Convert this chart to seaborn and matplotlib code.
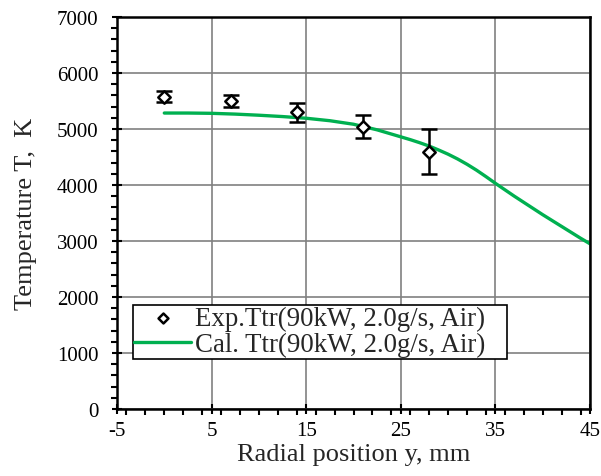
import numpy as np
import pandas as pd
import seaborn as sns
import matplotlib
matplotlib.use("Agg")
import matplotlib.pyplot as plt
from matplotlib.ticker import FixedLocator, MultipleLocator

# Experimental data
exp_y = [0, 7, 14, 21, 28]
exp_T = [5577, 5494, 5298, 5042, 4595]
exp_err = [100, 105, 165, 205, 405]

# Calculated curve
cal_y = [0, 2.5, 5, 7.5, 10, 12.5, 15, 17.5, 20, 22.5, 25, 26, 27, 28, 29, 30,
         31, 32, 33, 34, 35, 36, 37, 38, 39, 40, 41, 42, 43, 44, 45]
cal_T = [5285, 5285, 5280, 5266, 5246, 5222, 5192, 5148, 5085, 4985, 4860, 4810,
         4755, 4695, 4625, 4550, 4465, 4370, 4265, 4150, 4030, 3915, 3800, 3690,
         3580, 3470, 3365, 3260, 3155, 3050, 2950]

x_ticks = [-5, 5, 15, 25, 35, 45]

sns.set_theme(style="white")
plt.rcParams['font.family'] = ['Liberation Serif', 'DejaVu Serif']
plt.rcParams['axes.unicode_minus'] = False

fig = plt.figure(figsize=(6.01, 4.77), dpi=100)
ax = fig.add_axes([117/601, (477-410)/477, 473/601, 392/477])

df_cal = pd.DataFrame({"y": cal_y, "T": cal_T})
df_exp = pd.DataFrame({"y": exp_y, "T": exp_T})

ax.errorbar(exp_y, exp_T, yerr=exp_err, fmt='none', ecolor='black',
            elinewidth=1.8, capsize=6, capthick=1.8, zorder=3)
sns.scatterplot(data=df_exp, x="y", y="T", ax=ax, marker='D', s=40,
                facecolor='white', edgecolor='black', linewidth=1.8,
                label="Exp.Ttr(90kW, 2.0g/s, Air)", zorder=4)
sns.lineplot(data=df_cal, x="y", y="T", ax=ax, color='#00b050', linewidth=2.4,
             label="Cal. Ttr(90kW, 2.0g/s, Air)", zorder=2)

ax.set_xlim(-5, 45)
ax.set_ylim(0, 7000)
ax.xaxis.set_major_locator(FixedLocator(x_ticks))
ax.xaxis.set_minor_locator(MultipleLocator(2))
ax.yaxis.set_major_locator(MultipleLocator(1000))
ax.yaxis.set_minor_locator(MultipleLocator(200))
ax.grid(True, which='major', color='#808080', linewidth=1.2)
ax.set_axisbelow(True)

for s in ax.spines.values():
    s.set_color('black')
    s.set_linewidth(1.8)
    s.set_visible(True)

ax.tick_params(which='major', direction='inout', length=7, width=1.5, colors='black',
               labelsize=15, bottom=True, left=True)
ax.tick_params(axis='y', which='major', pad=10)
ax.tick_params(axis='x', which='major', pad=5)
ax.tick_params(which='minor', direction='out', length=4, width=1.5, colors='black',
               bottom=True, left=True)

ax.set_xlabel("Radial position y, mm", fontsize=19, labelpad=2)
ax.set_ylabel("Temperature T,  K", fontsize=19, labelpad=14)

leg = ax.legend(loc='lower left', bbox_to_anchor=(0.034, 0.128, 0.79, 0.15),
                mode='expand', fontsize=19.4,
                frameon=True, fancybox=False, edgecolor='black', framealpha=1,
                borderpad=0.05, handlelength=2.1, handletextpad=0.15,
                labelspacing=0.05, borderaxespad=0, markerscale=0.8)
leg.get_frame().set_linewidth(1.2)

fig.savefig("out.png", dpi=100)
